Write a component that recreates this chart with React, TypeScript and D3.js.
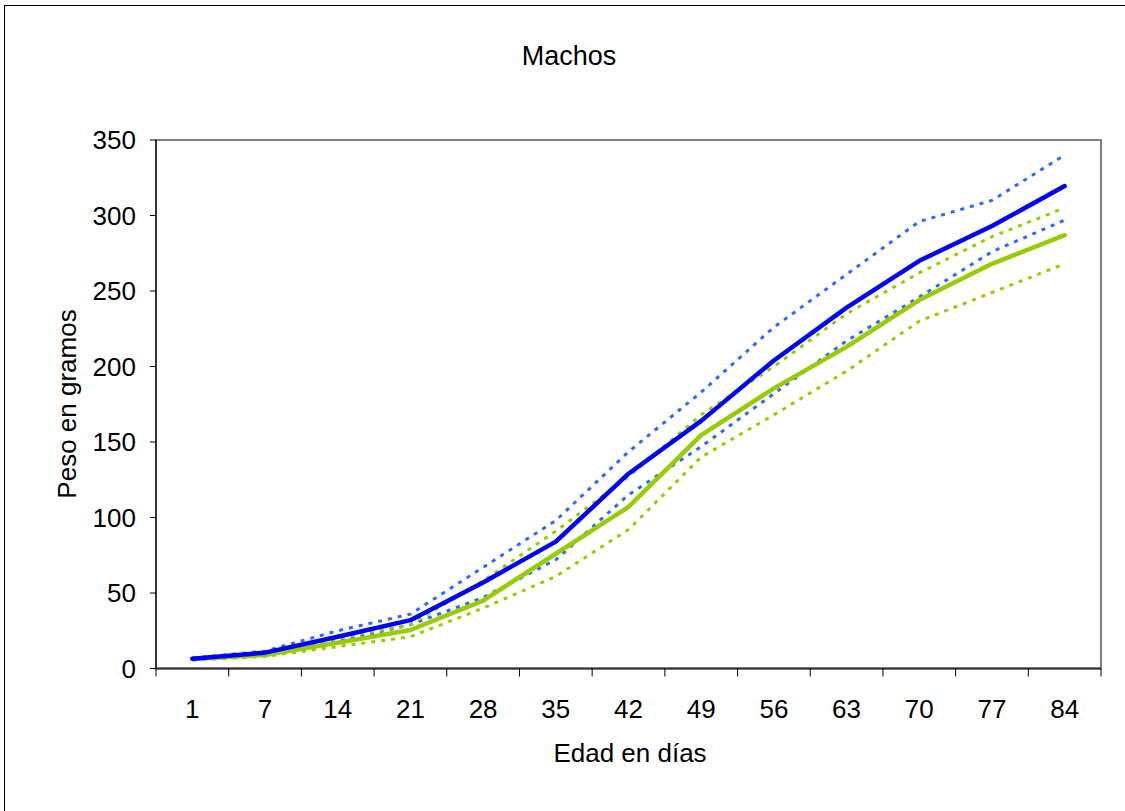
import React from "react";
import * as d3 from "d3";

const days = ["1", "7", "14", "21", "28", "35", "42", "49", "56", "63", "70", "77", "84"];
const blueMean = [6.5, 10.5, 21, 32, 57, 84, 129, 164, 204, 239, 270, 293, 319.5];
const blueUpper = [7, 11.5, 25, 36, 67, 98, 143.5, 183, 226, 261, 296, 310, 340];
const blueLower = [6, 9, 18, 29, 47, 72, 115, 147, 182, 217, 246, 276, 297];
const greenMean = [6.3, 9, 17, 25.5, 45, 76, 107, 154.5, 185.5, 213, 244, 268, 287];
const greenUpper = [7, 10, 20, 29, 58, 91, 127, 168, 200, 235, 262, 286, 305];
const greenLower = [5.5, 8, 14.5, 21, 40, 61, 92, 140, 168, 197, 230, 249, 268];
const yTicks = [0, 50, 100, 150, 200, 250, 300, 350];

const W = 1125;
const H = 811;
const plot = { left: 156, right: 1101, top: 140, bottom: 668.5 };
const font = "'Liberation Sans', Arial, sans-serif";

export default function App() {
  const x = d3.scaleBand<string>().domain(days).range([plot.left, plot.right]);
  const y = d3.scaleLinear().domain([0, 350]).range([plot.bottom, plot.top]);
  const line = d3
    .line<number>()
    .x((_, i) => (x(days[i]) as number) + x.bandwidth() / 2)
    .y((d) => y(d));

  const series = [
    { data: blueUpper, color: "#3366FF", width: 3, dash: "4,6" },
    { data: blueLower, color: "#3366FF", width: 3, dash: "4,6" },
    { data: greenUpper, color: "#99CC00", width: 3, dash: "4,6" },
    { data: greenLower, color: "#99CC00", width: 3, dash: "4,6" },
    { data: greenMean, color: "#99CC00", width: 4.5, dash: null },
    { data: blueMean, color: "#0000FF", width: 4.5, dash: null },
  ];

  const xTickPos = days.map((d) => x(d) as number).concat([plot.right]);

  return (
    <svg
      width={W}
      height={H}
      style={{ position: "absolute", left: 0, top: 0, background: "#fff" }}
      fontFamily={font}
    >
      <rect x={4.5} y={5.5} width={W} height={H} fill="#fff" stroke="#000" strokeWidth={1} />
      <text x={569} y={65} textAnchor="middle" fontSize={27}>
        Machos
      </text>
      <rect
        x={plot.left}
        y={plot.top}
        width={plot.right - plot.left}
        height={plot.bottom - plot.top}
        fill="#fff"
        stroke="#808080"
        strokeWidth={2}
      />
      <line x1={plot.left} x2={plot.left} y1={plot.top} y2={plot.bottom} stroke="#333" strokeWidth={2} />
      {yTicks.map((t) => (
        <g key={t}>
          <line x1={plot.left - 6} x2={plot.left} y1={y(t)} y2={y(t)} stroke="#000" strokeWidth={1} />
          <text x={136} y={y(t) + 9} textAnchor="end" fontSize={26}>
            {t}
          </text>
        </g>
      ))}
      <line x1={plot.left} x2={plot.right} y1={plot.bottom} y2={plot.bottom} stroke="#333" strokeWidth={2} />
      {xTickPos.map((p, i) => (
        <line key={i} x1={p} x2={p} y1={plot.bottom} y2={plot.bottom + 8} stroke="#000" strokeWidth={1} />
      ))}
      {days.map((d) => (
        <text key={d} x={(x(d) as number) + x.bandwidth() / 2} y={718} textAnchor="middle" fontSize={26}>
          {d}
        </text>
      ))}
      {series.map((s, i) => (
        <path
          key={i}
          d={line(s.data) || ""}
          fill="none"
          stroke={s.color}
          strokeWidth={s.width}
          strokeDasharray={s.dash || undefined}
          strokeLinejoin="round"
          strokeLinecap={s.dash ? "butt" : "round"}
        />
      ))}
      <text x={630} y={762} textAnchor="middle" fontSize={26}>
        Edad en días
      </text>
      <text transform={`translate(76, ${404}) rotate(-90)`} textAnchor="middle" fontSize={26}>
        Peso en gramos
      </text>
    </svg>
  );
}
